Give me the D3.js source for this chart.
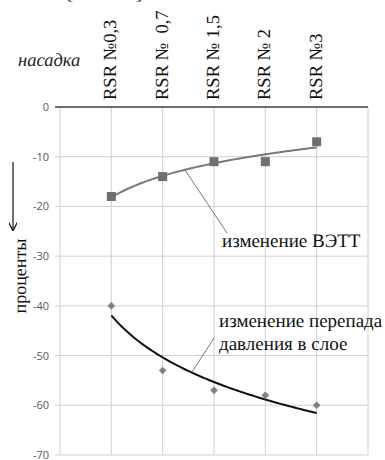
<!DOCTYPE html>
<html><head><meta charset="utf-8">
<script src="https://cdn.jsdelivr.net/npm/d3@7"></script>
<style>body{margin:0;background:#fff}
.serif{font-family:"Liberation Serif","Times New Roman",serif;text-rendering:geometricPrecision}
.sans{font-family:"Open Sans","Liberation Sans",sans-serif}
</style>
</head><body>
<svg id="c" width="385" height="460"></svg>
<script>
const categories = ["RSR №0,3", "RSR №  0,7", "RSR № 1,5", "RSR № 2", "RSR №3"];
const vettValues = [-18, -14, -11, -11, -7];
const pressureValues = [-40, -53, -57, -58, -60];
const yTicks = [0, -10, -20, -30, -40, -50, -60, -70];

const svg = d3.select("#c");
const x = d3.scaleLinear().domain([0, 6]).range([60, 368]);
const y = d3.scaleLinear().domain([0, -70]).range([107, 455]);

const g = svg.append("g");
g.selectAll("line.h").data(yTicks.slice(1)).join("line")
  .attr("x1", 55).attr("x2", 368).attr("y1", d => y(d)).attr("y2", d => y(d))
  .attr("stroke", "#cfcfcf").attr("stroke-width", 1);
g.selectAll("line.v").data(d3.range(0, 7)).join("line")
  .attr("x1", d => x(d)).attr("x2", d => x(d)).attr("y1", y(0)).attr("y2", y(-70))
  .attr("stroke", "#cfcfcf").attr("stroke-width", 1);
svg.append("line").attr("x1", 55).attr("x2", 368).attr("y1", y(0)).attr("y2", y(0))
  .attr("stroke", "#404040").attr("stroke-width", 1.5);

svg.selectAll("text.yt").data(yTicks).join("text").attr("class", "sans")
  .attr("x", 49).attr("y", d => y(d) + 4).attr("text-anchor", "end")
  .attr("font-size", 11).attr("fill", "#595959")
  .text(d => d);

svg.selectAll("text.cat").data(categories).join("text").attr("class", "serif")
  .attr("transform", (d, i) => `translate(${x(i + 1) + 5},100) rotate(-90)`)
  .attr("font-size", 18.5).attr("fill", "#111")
  .style("white-space", "pre")
  .text(d => d);

svg.append("text").attr("class", "serif").attr("x", 18).attr("y", 66)
  .attr("font-style", "italic").attr("font-size", 18.5).attr("fill", "#222")
  .text("насадка");
svg.append("text").attr("class", "serif").attr("x", 67).attr("y", -1)
  .attr("font-size", 18).attr("fill", "#222")
  .style("white-space", "pre").text("[              ]");

svg.append("text").attr("class", "serif").attr("transform", "translate(26,276) rotate(-90)").attr("text-anchor", "middle")
  .attr("font-size", 18).attr("fill", "#111").text("проценты");
svg.append("defs").append("marker").attr("id", "ah").attr("viewBox", "0 0 10 10").attr("refX", 9).attr("refY", 5)
  .attr("markerWidth", 7).attr("markerHeight", 7).attr("orient", "auto")
  .append("path").attr("d", "M0,0L10,5L0,10").attr("fill", "none").attr("stroke", "#111").attr("stroke-width", 1.5);
svg.append("line").attr("x1", 13).attr("x2", 13).attr("y1", 162).attr("y2", 230)
  .attr("stroke", "#111").attr("stroke-width", 1.2).attr("marker-end", "url(#ah)");

function logFit(vals) {
  const xs = vals.map((v, i) => Math.log(i + 1));
  const mx = d3.mean(xs), my = d3.mean(vals);
  const a = d3.sum(xs.map((l, i) => (l - mx) * (vals[i] - my))) / d3.sum(xs.map(l => (l - mx) ** 2));
  const b = my - a * mx;
  return t => a * Math.log(t) + b;
}
const line = d3.line().x(d => x(d[0])).y(d => y(d[1]));
function trend(vals) {
  const f = logFit(vals);
  return d3.range(1, 5.001, 0.05).map(t => [t, f(t)]);
}
svg.append("path").attr("d", line(trend(vettValues))).attr("fill", "none").attr("stroke", "#7a7a7a").attr("stroke-width", 2);
svg.append("path").attr("d", line(trend(pressureValues))).attr("fill", "none").attr("stroke", "#111").attr("stroke-width", 2);

svg.selectAll("rect.sq").data(vettValues).join("rect")
  .attr("x", (d, i) => x(i + 1) - 4.5).attr("y", d => y(d) - 4.5).attr("width", 9).attr("height", 9)
  .attr("fill", "#6f6f6f");
svg.selectAll("path.dm").data(pressureValues).join("path")
  .attr("transform", (d, i) => `translate(${x(i + 1)},${y(d)})`)
  .attr("d", "M0,-3.8L3.8,0L0,3.8L-3.8,0Z").attr("fill", "#808080");

svg.append("line").attr("x1", 185).attr("y1", 170).attr("x2", 227).attr("y2", 233).attr("stroke", "#555").attr("stroke-width", 0.8);
svg.append("text").attr("class", "serif").attr("x", 222).attr("y", 247).attr("font-size", 19).attr("fill", "#111").text("изменение ВЭТТ");
svg.append("line").attr("x1", 192).attr("y1", 372).attr("x2", 214).attr("y2", 338).attr("stroke", "#555").attr("stroke-width", 0.8);
svg.append("text").attr("class", "serif").attr("x", 219).attr("y", 327).attr("font-size", 19).attr("fill", "#111").text("изменение перепада");
svg.append("text").attr("class", "serif").attr("x", 219).attr("y", 350).attr("font-size", 19).attr("fill", "#111").text("давления в слое");
</script>
</body></html>
